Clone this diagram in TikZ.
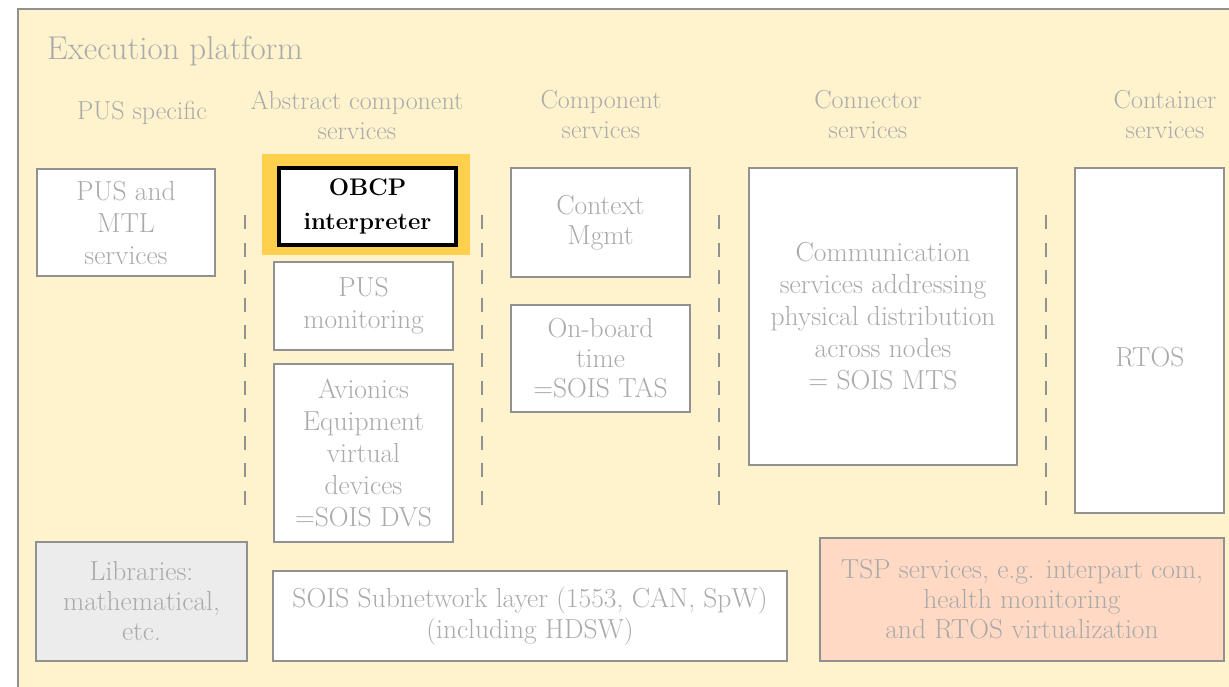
\documentclass[tikz,border=0pt]{standalone}

\definecolor{platform}{RGB}{255,243,206}
\definecolor{faded}{RGB}{170,170,170}
\definecolor{edge}{RGB}{145,145,145}
\definecolor{libfill}{RGB}{236,236,236}
\definecolor{tspfill}{RGB}{255,217,196}
\definecolor{focus}{RGB}{255,207,77}

\tikzset{
  svc/.style={draw=edge, line width=1.6pt, fill=white, text=faded,
    align=center, inner sep=0pt, font=\fontsize{27.5}{32}\selectfont},
  head/.style={text=faded, align=center, inner sep=0pt,
    font=\fontsize{26}{30}\selectfont},
  sep/.style={draw=edge, line width=2pt, dash pattern=on 14pt off 13.6pt},
}

\begin{document}
\begin{tikzpicture}[x=1pt, y=-1pt]
  \useasboundingbox (0,0) rectangle (1229,686);
  \clip (0,0) rectangle (1229,686);

  % platform frame (runs past the right and bottom edges)
  \node[draw=edge, line width=1.6pt, fill=platform, inner sep=0pt,
        minimum width=1240pt, minimum height=700pt, anchor=north west]
        (platform) at (17,8) {};

  \node[text=faded, anchor=base west, inner sep=0pt,
        font=\fontsize{33}{38}\selectfont] (title) at (47,59) {Execution platform};

  % column headings
  \node[head] (hpus)  at (142,113) {PUS specific};
  \node[head] (habs)  at (357,115) {Abstract component\\services};
  \node[head] (hcomp) at (601,115) {Component\\services};
  \node[head] (hconn) at (868,115) {Connector\\services};
  \node[head] (hcont) at (1165,115) {Container\\services};

  % column separators
  \foreach \n/\x in {s1/245, s2/482, s3/719, s4/1046} {
    \coordinate (\n top) at (\x,215);
    \coordinate (\n bot) at (\x,505);
    \draw[sep] (\n top) -- (\n bot);
  }

  % PUS specific
  \node[svc, minimum width=178pt, minimum height=107pt] (pusmtl) at (126,222.5)
    {PUS and\\MTL\\services};

  % abstract component services
  \node[fill=focus, inner sep=0pt, minimum width=208pt, minimum height=101pt]
    (obcpframe) at (366,204.5) {};
  \node[draw=black, line width=4pt, fill=white, text=black, align=center,
        inner sep=0pt, minimum width=177pt, minimum height=77pt,
        font=\fontsize{24}{34}\selectfont\bfseries] (obcp) at (367.5,206.5)
    {OBCP\\interpreter};
  \node[svc, minimum width=179pt, minimum height=88pt] (pusmon) at (363.5,306)
    {PUS\\monitoring};
  \node[svc, minimum width=179pt, minimum height=178pt] (dvs) at (363.5,453)
    {Avionics\\Equipment\\virtual\\devices\\=SOIS DVS};

  % component services
  \node[svc, minimum width=179pt, minimum height=109pt, font=\fontsize{27.5}{30}\selectfont]
    (ctx) at (600.5,222.5) {Context\\Mgmt};
  \node[svc, minimum width=179pt, minimum height=107pt, font=\fontsize{27.5}{30}\selectfont]
    (tas) at (600.5,358.5) {On-board\\time\\=SOIS TAS};

  % connector services
  \node[svc, minimum width=268pt, minimum height=297pt] (mts) at (883,316.5)
    {Communication\\services addressing\\physical distribution\\across nodes\\= SOIS MTS};

  % container services
  \node[svc, minimum width=149pt, minimum height=345pt] (rtos) at (1149.5,340.5) {};
  \node[text=faded, inner sep=0pt, font=\fontsize{27.5}{32}\selectfont]
    (rtoslabel) at (1150,357) {RTOS};

  % bottom row
  \node[svc, fill=libfill, minimum width=211pt, minimum height=119pt,
        font=\fontsize{27.5}{30}\selectfont] (libs) at (141.5,601.5)
    {Libraries:\\mathematical,\\etc.};
  \node[svc, minimum width=514pt, minimum height=90pt, font=\fontsize{27.5}{31}\selectfont]
    (subnet) at (530,616) {SOIS Subnetwork layer (1553, CAN, SpW)\\(including HDSW)};
  \node[svc, fill=tspfill, minimum width=404pt, minimum height=123pt,
        font=\fontsize{27.5}{30}\selectfont] (tsp) at (1022,599.5)
    {TSP services, e.g. interpart com,\\health monitoring\\and RTOS virtualization};
\end{tikzpicture}
\end{document}
